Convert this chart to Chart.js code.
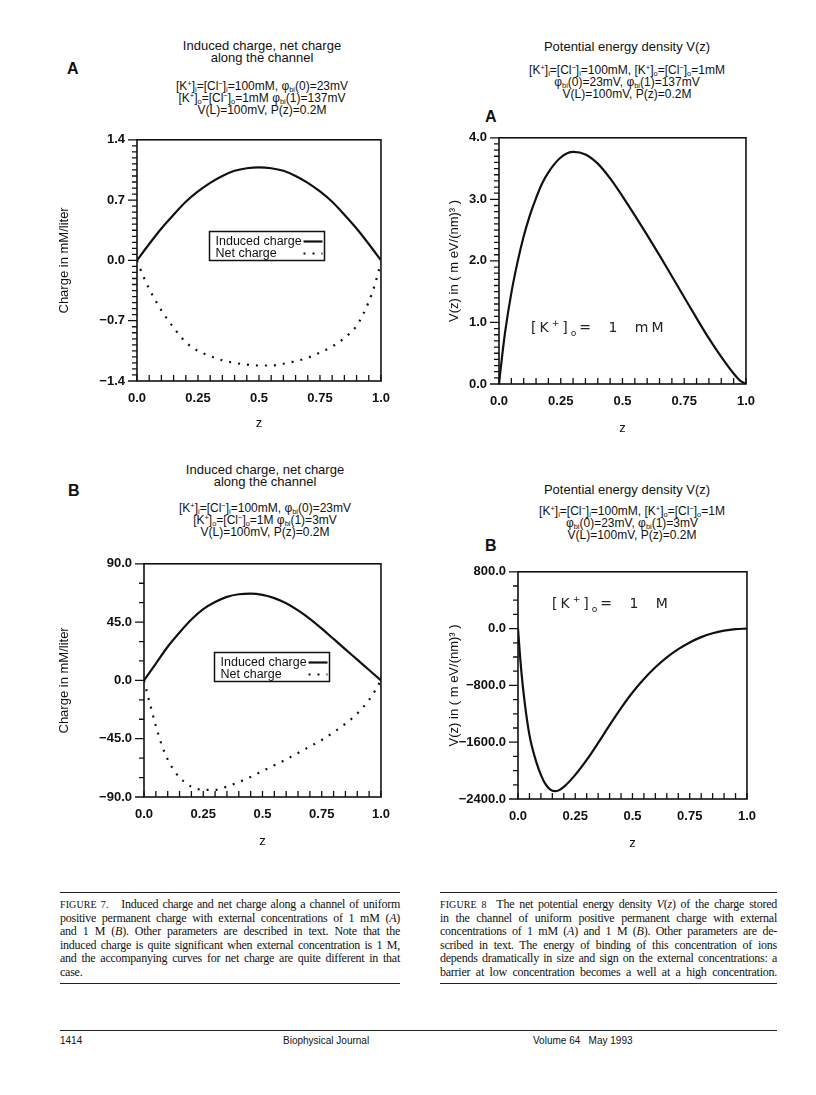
<!DOCTYPE html>
<html><head><meta charset="utf-8">
<script src="https://cdn.jsdelivr.net/npm/chart.js@4.4.1/dist/chart.umd.min.js"></script>
<style>
html,body{margin:0;padding:0;background:#fff;}
body{width:816px;height:1095px;position:relative;overflow:hidden;font-family:"Liberation Sans",Arial,sans-serif;color:#111;}
canvas{position:absolute;}
.hl{position:absolute;width:400px;text-align:center;white-space:nowrap;line-height:12px;height:12px;}
.t{font-size:13px;}
.p{font-size:12px;}
.hl sub,.hl sup{font-size:62%;line-height:0;}
.hl sup{vertical-align:4px;}
.hl sub{vertical-align:-2px;}
.lab{position:absolute;font-weight:bold;font-size:16px;line-height:16px;}
.ann{position:absolute;font-family:"DejaVu Sans",sans-serif;font-size:14px;letter-spacing:3px;word-spacing:7px;white-space:nowrap;line-height:18px;color:#222;}
.ann sub,.ann sup{font-size:65%;line-height:0;}
.cap{position:absolute;font-family:"Liberation Serif","Times New Roman",serif;font-size:12px;letter-spacing:-0.25px;line-height:13.6px;color:#111;}
.cap div{text-align:justify;text-align-last:justify;}
.cap div.last{text-align-last:left;}
.sc{font-size:10px;letter-spacing:0.1px;}
.rule{position:absolute;height:0;border-top:1.5px solid #222;}
.foot{position:absolute;font-size:10px;line-height:10px;white-space:nowrap;}
</style>
</head><body>

<div class="lab" style="left:67px;top:61px">A</div>
<div class="lab" style="left:485px;top:109px">A</div>
<div class="lab" style="left:68px;top:483px">B</div>
<div class="lab" style="left:485px;top:538px">B</div>

<!-- Fig 7A header -->
<div class="hl t" style="left:62px;top:40px">Induced charge, net charge</div>
<div class="hl t" style="left:62px;top:52px">along the channel</div>
<div class="hl p" style="left:62px;top:80px">[K<sup>+</sup>]<sub>i</sub>=[Cl<sup>−</sup>]<sub>i</sub>=100mM, φ<sub>bi</sub>(0)=23mV</div>
<div class="hl p" style="left:62px;top:92px">[K<sup>+</sup>]<sub>o</sub>=[Cl<sup>−</sup>]<sub>o</sub>=1mM φ<sub>bi</sub>(1)=137mV</div>
<div class="hl p" style="left:62px;top:104px">V(L)=100mV, P(z)=0.2M</div>

<!-- Fig 8A header -->
<div class="hl t" style="left:427px;top:41px">Potential energy density V(z)</div>
<div class="hl p" style="left:427px;top:64px">[K<sup>+</sup>]<sub>i</sub>=[Cl<sup>−</sup>]<sub>i</sub>=100mM, [K<sup>+</sup>]<sub>o</sub>=[Cl<sup>−</sup>]<sub>o</sub>=1mM</div>
<div class="hl p" style="left:427px;top:76px">φ<sub>bi</sub>(0)=23mV, φ<sub>bi</sub>(1)=137mV</div>
<div class="hl p" style="left:427px;top:88px">V(L)=100mV, P(z)=0.2M</div>

<!-- Fig 7B header -->
<div class="hl t" style="left:65px;top:464px">Induced charge, net charge</div>
<div class="hl t" style="left:65px;top:476px">along the channel</div>
<div class="hl p" style="left:65px;top:502px">[K<sup>+</sup>]<sub>i</sub>=[Cl<sup>−</sup>]<sub>i</sub>=100mM, φ<sub>bi</sub>(0)=23mV</div>
<div class="hl p" style="left:65px;top:514px">[K<sup>+</sup>]<sub>o</sub>=[Cl<sup>−</sup>]<sub>o</sub>=1M φ<sub>bi</sub>(1)=3mV</div>
<div class="hl p" style="left:65px;top:526px">V(L)=100mV, P(z)=0.2M</div>

<!-- Fig 8B header -->
<div class="hl t" style="left:427px;top:484px">Potential energy density V(z)</div>
<div class="hl p" style="left:432px;top:505px">[K<sup>+</sup>]<sub>i</sub>=[Cl<sup>−</sup>]<sub>i</sub>=100mM, [K<sup>+</sup>]<sub>o</sub>=[Cl<sup>−</sup>]<sub>o</sub>=1M</div>
<div class="hl p" style="left:432px;top:517px">φ<sub>bi</sub>(0)=23mV, φ<sub>bi</sub>(1)=3mV</div>
<div class="hl p" style="left:432px;top:529px">V(L)=100mV, P(z)=0.2M</div>

<canvas id="c1" width="350" height="311" style="left:50px;top:120px"></canvas>
<canvas id="c2" width="325" height="318" style="left:440px;top:118px"></canvas>
<canvas id="c3" width="350" height="305" style="left:50px;top:544px"></canvas>
<canvas id="c4" width="326" height="299" style="left:440px;top:552px"></canvas>

<div class="ann" style="left:531px;top:318px">[K<sup>+</sup>]<sub>o</sub>= 1 mM</div>
<div class="ann" style="left:552px;top:594px">[K<sup>+</sup>]<sub>o</sub>= 1 M</div>

<!-- captions -->
<div class="rule" style="left:60px;top:892px;width:340px"></div>
<div class="cap" style="left:60px;top:898px;width:340px">
<div><span class="sc">FIGURE 7.</span>&nbsp;&nbsp; Induced charge and net charge along a channel of uniform</div>
<div>positive permanent charge with external concentrations of 1 mM (<i>A</i>)</div>
<div>and 1 M (<i>B</i>). Other parameters are described in text. Note that the</div>
<div>induced charge is quite significant when external concentration is 1 M,</div>
<div>and the accompanying curves for net charge are quite different in that</div>
<div class="last">case.</div>
</div>
<div class="rule" style="left:60px;top:983px;width:340px"></div>

<div class="rule" style="left:440px;top:892px;width:337px"></div>
<div class="cap" style="left:440px;top:898px;width:337px">
<div><span class="sc">FIGURE 8</span>&nbsp; The net potential energy density <i>V</i>(<i>z</i>) of the charge stored</div>
<div>in the channel of uniform positive permanent charge with external</div>
<div>concentrations of 1 mM (<i>A</i>) and 1 M (<i>B</i>). Other parameters are de-</div>
<div>scribed in text. The energy of binding of this concentration of ions</div>
<div>depends dramatically in size and sign on the external concentrations: a</div>
<div>barrier at low concentration becomes a well at a high concentration.</div>
</div>
<div class="rule" style="left:440px;top:983px;width:337px"></div>

<div class="rule" style="left:60px;top:1030px;width:717px"></div>
<div class="foot" style="left:60px;top:1036px">1414</div>
<div class="foot" style="left:283px;top:1036px">Biophysical Journal</div>
<div class="foot" style="left:533px;top:1036px">Volume 64&nbsp;&nbsp;&nbsp;May 1993</div>

<script>
// ---------- data ----------
const seriesNames = ['Induced charge', 'Net charge'];

// Fig 7A (1 mM)
const zInducedA = [0,0.05,0.1,0.15,0.2,0.25,0.3,0.35,0.4,0.45,0.5,0.55,0.6,0.65,0.7,0.75,0.8,0.85,0.9,0.95,1.0];
const inducedA  = [0,0.19,0.37,0.53,0.68,0.80,0.90,0.98,1.04,1.07,1.08,1.07,1.04,0.98,0.90,0.80,0.68,0.53,0.37,0.19,0];
const zNetA = [0,0.025,0.05,0.1,0.15,0.2,0.25,0.3,0.35,0.4,0.45,0.5,0.55,0.6,0.65,0.7,0.75,0.8,0.85,0.9,0.95,0.975,1.0];
const netA  = [0,-0.18,-0.33,-0.58,-0.78,-0.95,-1.05,-1.11,-1.16,-1.19,-1.21,-1.22,-1.22,-1.20,-1.17,-1.13,-1.07,-1.00,-0.90,-0.76,-0.48,-0.28,-0.02];

// Fig 8A (1 mM)
const zEnergyA = [0,0.0125,0.025,0.05,0.075,0.1,0.125,0.15,0.175,0.2,0.25,0.3,0.35,0.4,0.45,0.5,0.55,0.6,0.65,0.7,0.75,0.8,0.85,0.9,0.95,0.975,1.0];
const energyA  = [0,0.45,0.85,1.48,1.98,2.40,2.74,3.02,3.26,3.44,3.68,3.77,3.73,3.58,3.34,3.05,2.74,2.42,2.09,1.75,1.41,1.07,0.74,0.44,0.17,0.06,0];

// Fig 7B (1 M)
const zInducedB = [0,0.05,0.1,0.15,0.2,0.25,0.3,0.35,0.4,0.45,0.5,0.55,0.6,0.65,0.7,0.75,0.8,0.85,0.9,0.95,1.0];
const inducedB  = [0,13,26,37,47,55,60.5,64.5,66.5,67,66,63.5,59.5,54,47.5,40,32,24,16,8,0];
const zNetB = [0,0.025,0.05,0.075,0.1,0.125,0.15,0.175,0.2,0.25,0.3,0.35,0.4,0.45,0.5,0.55,0.6,0.65,0.7,0.75,0.8,0.85,0.9,0.95,0.975,1.0];
const netB  = [0,-18,-35,-50,-61,-69,-75,-79,-82,-84.5,-84.5,-82,-78.5,-74.5,-70,-65.5,-61,-56,-51,-46,-40,-33.5,-25.5,-15,-8,0];

// Fig 8B (1 M)
const zEnergyB = [0,0.01,0.02,0.03,0.04,0.05,0.06,0.08,0.1,0.12,0.14,0.16,0.18,0.2,0.25,0.3,0.35,0.4,0.45,0.5,0.55,0.6,0.65,0.7,0.75,0.8,0.85,0.9,0.95,1.0];
const energyB  = [0,-430,-780,-1060,-1300,-1500,-1650,-1880,-2060,-2190,-2265,-2290,-2275,-2230,-2060,-1850,-1610,-1360,-1120,-900,-710,-545,-405,-290,-195,-120,-65,-28,-7,0];

// tick labels
const xMajor = [0, 0.25, 0.5, 0.75, 1.0];
const xTickLabels = ['0.0', '0.25', '0.5', '0.75', '1.0'];
const yMajorA7 = [-1.4, -0.7, 0, 0.7, 1.4];
const yLabelsA7 = ['−1.4', '−0.7', '0.0', '0.7', '1.4'];
const yMajorA8 = [0, 1, 2, 3, 4];
const yLabelsA8 = ['0.0', '1.0', '2.0', '3.0', '4.0'];
const yMajorB7 = [-90, -45, 0, 45, 90];
const yLabelsB7 = ['−90.0', '−45.0', '0.0', '45.0', '90.0'];
const yMajorB8 = [-2400, -1600, -800, 0, 800];
const yLabelsB8 = ['−2400.0', '−1600.0', '−800.0', '0.0', '800.0'];

const yTitle7 = 'Charge in mM/liter';
const yTitle8 = 'V(z) in ( m eV/(nm)³ )';
const xTitle = 'z';

// ---------- helpers ----------
const INK = '#111';
Chart.defaults.font.family = '"Liberation Sans", Arial, sans-serif';
Chart.defaults.color = INK;

function pts(xs, ys) { return xs.map((x, i) => ({x: x, y: ys[i]})); }

const frame = {
  id: 'frame',
  afterDatasetsDraw(chart, args, o) {
    const {ctx, chartArea: a, scales: {x, y}} = chart;
    ctx.save();
    ctx.strokeStyle = INK;
    ctx.lineWidth = 1.6;
    ctx.strokeRect(a.left, a.top, a.right - a.left, a.bottom - a.top);
    ctx.lineWidth = 1.3;
    ctx.beginPath();
    x.ticks.forEach(t => { const p = x.getPixelForValue(t.value); ctx.moveTo(p, a.bottom); ctx.lineTo(p, a.bottom - 6); });
    y.ticks.forEach(t => { const p = y.getPixelForValue(t.value); const L = t.label ? 9 : 5; ctx.moveTo(a.left - L, p); ctx.lineTo(a.left, p); });
    ctx.stroke();
    if (o && o.legend) {
      const L = o.legend;
      const bx = Math.round(a.left + L.fx * (a.right - a.left)) + 0.5;
      const by = Math.round(a.top + L.fy * (a.bottom - a.top)) + 0.5;
      ctx.lineWidth = 1.5;
      ctx.strokeRect(bx, by, L.w, L.h);
      ctx.font = '12.5px "Liberation Sans", Arial, sans-serif';
      ctx.fillStyle = INK;
      ctx.textBaseline = 'middle';
      chart.data.datasets.forEach((d, i) => {
        const ty = by + L.pad + i * L.lh;
        ctx.fillText(d.label, bx + 6, ty);
        ctx.save();
        ctx.setLineDash(d.borderDash || []);
        ctx.lineWidth = d.borderWidth;
        ctx.beginPath();
        ctx.moveTo(bx + L.w - 21, ty);
        ctx.lineTo(bx + L.w - 2, ty);
        ctx.stroke();
        ctx.restore();
      });
    }
    ctx.restore();
  }
};

function linAxis(pos, min, max, minor, major, labels, size, title, extra) {
  const horiz = pos === 'bottom';
  return Object.assign({
    type: 'linear', position: pos, min: min, max: max,
    afterBuildTicks(s) {
      const t = []; const n = Math.round((max - min) / minor);
      for (let i = 0; i <= n; i++) t.push({value: +(min + i * minor).toFixed(6)});
      s.ticks = t;
    },
    afterFit(s) { if (horiz) s.height = size; else s.width = size; },
    ticks: {
      autoSkip: false, maxRotation: 0, minRotation: 0,
      padding: horiz ? 10 : 12,
      font: {size: 13, weight: 'bold'}, color: INK,
      callback(v) { const k = major.findIndex(m => Math.abs(m - v) < 1e-6); return k < 0 ? '' : labels[k]; }
    },
    grid: {display: false, drawTicks: false},
    border: {display: false},
    title: {display: true, text: title, color: INK, font: {size: 13},
            padding: horiz ? {top: 0, bottom: 0} : {top: 7, bottom: 0}}
  }, extra || {});
}

function lineDs(label, xs, ys, dashed) {
  return {
    label: label, data: pts(xs, ys),
    borderColor: INK, borderWidth: 2.2,
    borderDash: dashed ? [2, 7] : [],
    pointRadius: 0, fill: false, cubicInterpolationMode: 'monotone'
  };
}

function make(id, datasets, xAx, yAx, legend, pad) {
  return new Chart(document.getElementById(id), {
    type: 'line',
    data: {datasets: datasets},
    options: {
      responsive: false, animation: false, devicePixelRatio: 1,
      layout: {padding: pad},
      plugins: {legend: {display: false}, tooltip: {enabled: false}, frame: {legend: legend}},
      scales: {x: xAx, y: yAx}
    },
    plugins: [frame]
  });
}

const legendBox = {fx: 0.296, fy: 0.378, w: 115, h: 29, pad: 10, lh: 12};
const pad = {top: 11, right: 10, left: 0, bottom: 0};

// Fig 7A
make('c1',
  [lineDs(seriesNames[0], zInducedA, inducedA, false), lineDs(seriesNames[1], zNetA, netA, true)],
  linAxis('bottom', 0, 1, 0.05, xMajor, xTickLabels, 50, xTitle),
  linAxis('left', -1.4, 1.4, 0.07, yMajorA7, yLabelsA7, 87, yTitle7),
  legendBox, pad);

// Fig 8A
make('c2',
  [lineDs('V(z)', zEnergyA, energyA, false)],
  linAxis('bottom', 0, 1, 0.05, xMajor, xTickLabels, 52, xTitle),
  linAxis('left', 0, 4, 0.1, yMajorA8, yLabelsA8, 59, yTitle8),
  null, pad);

// Fig 7B
make('c3',
  [lineDs(seriesNames[0], zInducedB, inducedB, false), lineDs(seriesNames[1], zNetB, netB, true)],
  linAxis('bottom', 0, 1, 0.05, xMajor, xTickLabels, 52, xTitle),
  linAxis('left', -90, 90, 15, yMajorB7, yLabelsB7, 94, yTitle7),
  legendBox, pad);

// Fig 8B
make('c4',
  [lineDs('V(z)', zEnergyB, energyB, false)],
  linAxis('bottom', 0, 1, 0.05, xMajor, xTickLabels, 52, xTitle),
  linAxis('left', -2400, 800, 200, yMajorB8, yLabelsB8, 78, yTitle8),
  null, pad);
</script>
</body></html>
